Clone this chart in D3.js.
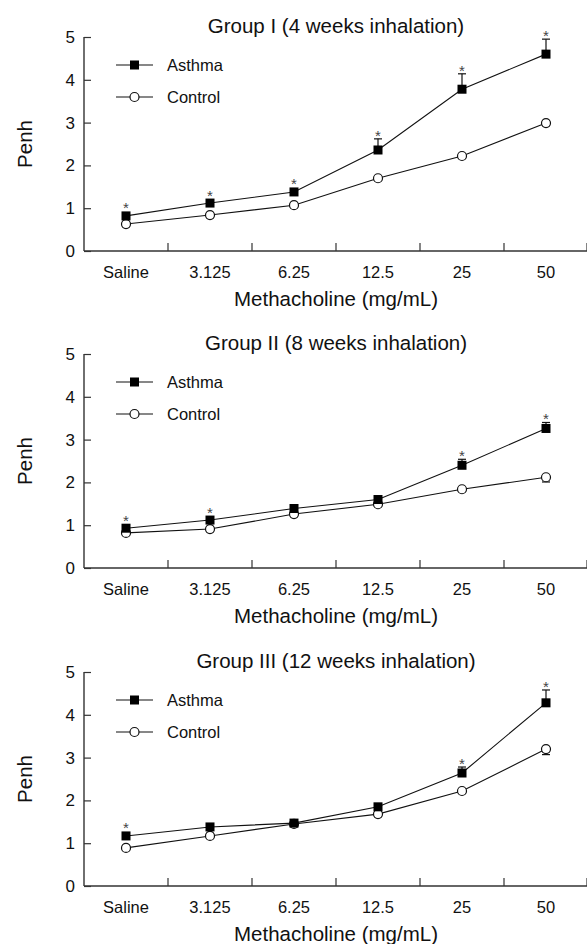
<!DOCTYPE html>
<html>
<head>
<meta charset="utf-8">
<script src="https://cdn.jsdelivr.net/npm/d3@7"></script>
<style>
  body { margin: 0; background: #fff; }
  svg { display: block; font-family: "Liberation Sans", Arial, sans-serif; }
</style>
</head>
<body>
<div id="chart"></div>
<script>
// doses on the x axis
var categories = ["Saline", "3.125", "6.25", "12.5", "25", "50"];
var titles = ["Group I (4 weeks inhalation)", "Group II (8 weeks inhalation)", "Group III (12 weeks inhalation)"];
var yTicks = [0, 1, 2, 3, 4, 5];

// Penh values
var asthma1 = [0.82, 1.12, 1.38, 2.36, 3.78, 4.60];
var asthmaErr1 = [0.04, 0.05, 0.06, 0.26, 0.36, 0.35];
var control1 = [0.63, 0.84, 1.07, 1.70, 2.22, 2.99];
var controlErr1 = [0.03, 0.03, 0.04, 0.04, 0.05, 0.05];
var sig1 = [1, 1, 1, 1, 1, 1];

var asthma2 = [0.93, 1.12, 1.39, 1.60, 2.40, 3.26];
var asthmaErr2 = [0.03, 0.04, 0.04, 0.05, 0.14, 0.14];
var control2 = [0.82, 0.91, 1.26, 1.49, 1.84, 2.12];
var controlErr2 = [0.03, 0.03, 0.04, 0.04, 0.05, 0.11];
var sig2 = [1, 1, 0, 0, 1, 1];

var asthma3 = [1.17, 1.38, 1.47, 1.85, 2.64, 4.28];
var asthmaErr3 = [0.04, 0.04, 0.04, 0.05, 0.14, 0.30];
var control3 = [0.89, 1.17, 1.45, 1.68, 2.22, 3.20];
var controlErr3 = [0.03, 0.03, 0.04, 0.04, 0.05, 0.13];
var sig3 = [1, 0, 0, 0, 1, 1];

var groups = [
  {title: titles[0], asthma: asthma1, aErr: asthmaErr1, control: control1, cErr: controlErr1, sig: sig1},
  {title: titles[1], asthma: asthma2, aErr: asthmaErr2, control: control2, cErr: controlErr2, sig: sig2},
  {title: titles[2], asthma: asthma3, aErr: asthmaErr3, control: control3, cErr: controlErr3, sig: sig3}
];

var width = 587, height = 944;
var left = 84, right = 588;
var tops = [37, 354, 672];
var plotH = 214;
var axisColor = "#333";

var svg = d3.select("#chart").append("svg")
    .attr("width", width)
    .attr("height", height);

var x = d3.scaleBand()
    .domain(categories)
    .range([left, right]);

groups.forEach(function(g, gi){
    var top = tops[gi];
    var y = d3.scaleLinear()
        .domain([0, 5])
        .range([top + plotH, top]);

    var panel = svg.append("g");

    // x axis: ticks between the bands, pointing up
    var bounds = categories.slice(1).map(function(c){ return x(c); }).concat([right - 1]);
    var xa = panel.append("g").attr("transform", "translate(0," + (top + plotH) + ")");
    xa.append("line").attr("x1", left).attr("x2", right).attr("stroke", axisColor).attr("stroke-width", 1.4);
    xa.selectAll(".xt").data(bounds).enter().append("line")
        .attr("x1", function(d){ return d; }).attr("x2", function(d){ return d; })
        .attr("y1", 0).attr("y2", -8)
        .attr("stroke", axisColor).attr("stroke-width", 1.2);
    xa.selectAll(".xl").data(categories).enter().append("text")
        .attr("x", function(d){ return x(d) + x.bandwidth() / 2; })
        .attr("y", 27)
        .attr("text-anchor", "middle")
        .attr("font-size", 16.5)
        .attr("fill", "#111")
        .text(function(d){ return d; });

    // y axis, ticks pointing inward
    var ya = panel.append("g").attr("transform", "translate(" + left + ",0)")
        .call(d3.axisRight(y).tickValues(yTicks).tickSize(7).tickFormat(d3.format("d")));
    ya.select(".domain").attr("stroke", axisColor).attr("stroke-width", 1.4).attr("d", "M0," + y(5) + "V" + y(0));
    ya.selectAll(".tick line").attr("stroke", axisColor).attr("stroke-width", 1.2);
    ya.selectAll(".tick text")
        .attr("x", -9).attr("text-anchor", "end")
        .attr("font-size", 17).attr("fill", "#111")
        .attr("font-family", "Liberation Sans, Arial, sans-serif");

    // titles
    panel.append("text")
        .attr("x", (left + right) / 2).attr("y", top - 4)
        .attr("text-anchor", "middle").attr("font-size", 20.5).attr("fill", "#111")
        .text(g.title);
    panel.append("text")
        .attr("x", (left + right) / 2).attr("y", top + plotH + 55)
        .attr("text-anchor", "middle").attr("font-size", 20.5).attr("fill", "#111")
        .text("Methacholine (mg/mL)");
    panel.append("text")
        .attr("transform", "translate(32," + (top + plotH / 2) + ") rotate(-90)")
        .attr("text-anchor", "middle").attr("font-size", 20.5).attr("fill", "#111")
        .text("Penh");

    var cx = function(i){ return x(categories[i]) + x.bandwidth() / 2; };
    var line = d3.line()
        .x(function(d, i){ return cx(i); })
        .y(function(d){ return y(d); });

    // error bars: asthma up, control down
    var eb = panel.append("g").attr("stroke", "#111").attr("stroke-width", 1.2);
    g.asthma.forEach(function(v, i){
        var xx = cx(i), y1 = y(v), y2 = y(v + g.aErr[i]);
        eb.append("line").attr("x1", xx).attr("x2", xx).attr("y1", y1).attr("y2", y2);
        eb.append("line").attr("x1", xx - 4).attr("x2", xx + 4).attr("y1", y2).attr("y2", y2);
    });
    g.control.forEach(function(v, i){
        var xx = cx(i), y1 = y(v), y2 = y(v - g.cErr[i]);
        eb.append("line").attr("x1", xx).attr("x2", xx).attr("y1", y1).attr("y2", y2);
        eb.append("line").attr("x1", xx - 4).attr("x2", xx + 4).attr("y1", y2).attr("y2", y2);
    });

    panel.append("path").datum(g.control).attr("d", line)
        .attr("fill", "none").attr("stroke", "#111").attr("stroke-width", 1.1);
    panel.append("path").datum(g.asthma).attr("d", line)
        .attr("fill", "none").attr("stroke", "#111").attr("stroke-width", 1.1);

    panel.selectAll(".cm").data(g.control).enter().append("circle")
        .attr("cx", function(d, i){ return cx(i); }).attr("cy", function(d){ return y(d); })
        .attr("r", 4.5).attr("fill", "#fff").attr("stroke", "#111").attr("stroke-width", 1.2);
    panel.selectAll(".am").data(g.asthma).enter().append("rect")
        .attr("x", function(d, i){ return cx(i) - 4.5; })
        .attr("y", function(d){ return y(d) - 4.5; })
        .attr("width", 9).attr("height", 9).attr("fill", "#000");

    // significance stars
    var stars = g.asthma.map(function(v, i){ return {i: i, top: v + g.aErr[i]}; })
        .filter(function(d){ return g.sig[d.i]; });
    panel.selectAll(".star").data(stars).enter().append("text")
        .attr("x", function(d){ return cx(d.i); })
        .attr("y", function(d){ return Math.min(y(d.top), y(g.asthma[d.i]) - 4.5) - 7 + 9; })
        .attr("text-anchor", "middle").attr("font-size", 15).attr("fill", "#444")
        .text("*");

    // legend
    var leg = panel.append("g");
    [["Asthma", 28], ["Control", 60]].forEach(function(item, k){
        var ly = top + item[1];
        leg.append("line").attr("x1", 116).attr("x2", 153).attr("y1", ly).attr("y2", ly)
            .attr("stroke", "#111").attr("stroke-width", 1.1);
        if (k === 0) {
            leg.append("rect").attr("x", 130).attr("y", ly - 4.5).attr("width", 9).attr("height", 9).attr("fill", "#000");
        } else {
            leg.append("circle").attr("cx", 134.5).attr("cy", ly).attr("r", 4.5)
                .attr("fill", "#fff").attr("stroke", "#111").attr("stroke-width", 1.2);
        }
        leg.append("text").attr("x", 167).attr("y", ly + 6).attr("font-size", 16.5).attr("fill", "#111").text(item[0]);
    });
});
</script>
</body>
</html>
